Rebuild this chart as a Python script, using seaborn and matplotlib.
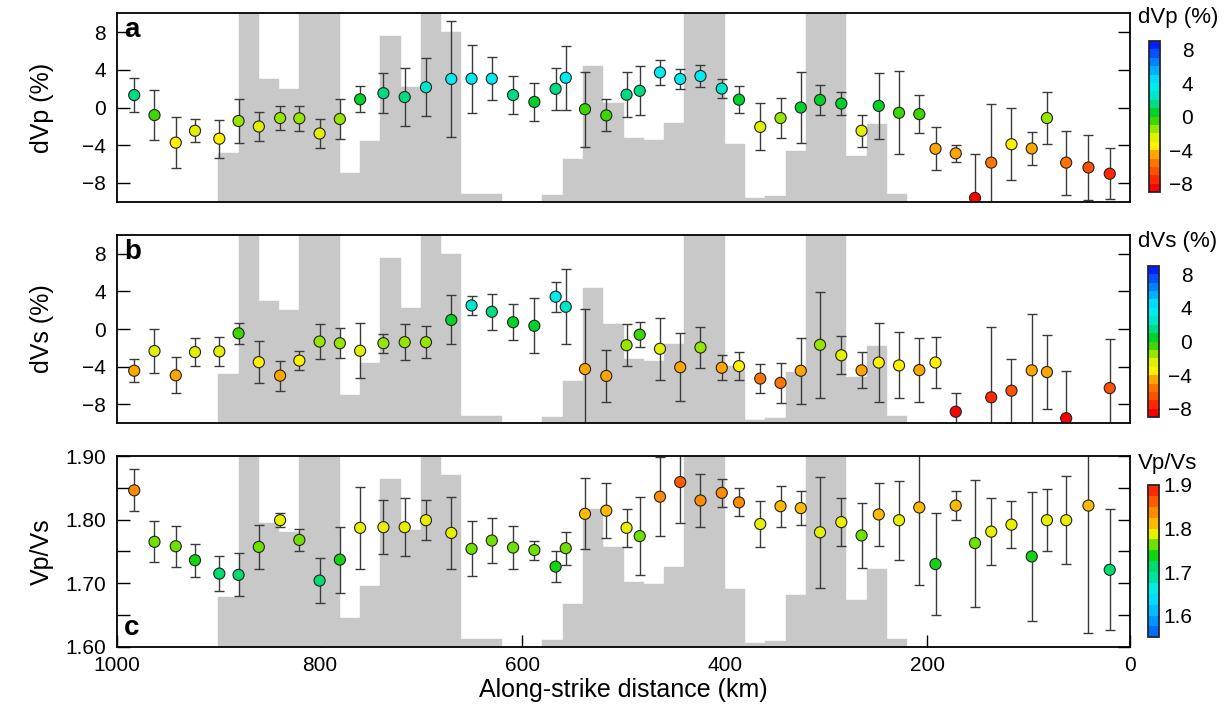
import numpy as np
import pandas as pd
import seaborn as sns
import matplotlib.pyplot as plt
from matplotlib.colors import ListedColormap, Normalize
from matplotlib.cm import ScalarMappable
import matplotlib.ticker as mticker

# grid node positions along strike (km)
distance = [983, 963, 942, 923, 899, 880, 860, 839, 820, 800, 780, 760, 737, 716, 695,
            670, 650, 630, 609, 588, 567, 557, 538, 517, 497, 484, 464, 444, 424, 403,
            386, 365, 345, 325, 306, 285, 265, 248, 228, 208, 192, 172, 153, 137, 117,
            97, 82, 63, 41, 20]

dvp = [1.32, -0.80, -3.73, -2.47, -3.31, -1.43, -2.02, -1.12, -1.15, -2.76, -1.22, 0.87,
       1.52, 1.11, 2.15, 3.03, 3.06, 3.06, 1.32, 0.59, 1.98, 3.16, -0.18, -0.84, 1.36,
       1.77, 3.72, 3.03, 3.34, 2.01, 0.83, -2.06, -1.12, 0.00, 0.80, 0.42, -2.47, 0.17,
       -0.56, -0.70, -4.38, -4.87, -9.6, -5.85, -3.90, -4.35, -1.12, -5.85, -6.37, -7.03]
dvp_err = [1.8, 2.7, 2.7, 1.2, 2.0, 2.3, 1.5, 1.3, 1.3, 1.5, 2.1, 1.4, 2.1, 3.1, 3.1,
           6.2, 3.6, 2.3, 2.0, 2.0, 2.2, 3.4, 4.0, 1.7, 2.4, 2.6, 1.3, 1.1, 1.2, 1.0,
           1.4, 2.5, 2.1, 3.8, 1.6, 1.2, 1.7, 3.5, 4.4, 2.0, 2.3, 0.9, 4.7, 6.2, 3.8,
           1.8, 2.8, 3.4, 3.4, 2.7]

dvs = [-4.42, -2.33, -4.91, -2.44, -2.37, -0.45, -3.51, -4.94, -3.34, -1.32, -1.50, -2.30,
       -1.50, -1.39, -1.39, 0.97, 2.51, 1.84, 0.73, 0.35, 3.44, 2.37, -4.24, -4.97, -1.71,
       -0.59, -2.09, -4.05, -1.95, -4.10, -3.93, -5.25, -5.71, -4.42, -1.67, -2.78, -4.38,
       -3.55, -3.86, -4.35, -3.55, -8.77, np.nan, -7.24, -6.54, -4.38, -4.56, -9.46,
       np.nan, -6.26]
dvs_err = [1.2, 2.3, 1.9, 1.5, 1.5, 1.1, 2.2, 1.6, 1.0, 1.9, 1.6, 2.9, 1.0, 1.9, 1.7,
           2.6, 1.0, 1.9, 1.9, 2.9, 1.6, 4.0, 6.4, 2.8, 2.2, 1.3, 3.3, 3.6, 2.2, 1.3,
           1.5, 1.5, 2.1, 3.5, 5.6, 2.0, 1.9, 4.2, 3.5, 3.4, 2.7, 2.0, np.nan, 7.5, 3.4,
           6.0, 3.9, 5.0, np.nan, 5.2]

vpvs = [1.846, 1.765, 1.758, 1.736, 1.715, 1.713, 1.757, 1.799, 1.768, 1.704, 1.737,
        1.787, 1.788, 1.788, 1.799, 1.779, 1.754, 1.767, 1.756, 1.752, 1.726, 1.755,
        1.809, 1.814, 1.787, 1.774, 1.836, 1.859, 1.830, 1.842, 1.827, 1.793, 1.821,
        1.818, 1.780, 1.796, 1.775, 1.808, 1.799, 1.819, 1.730, 1.822, 1.763, 1.781,
        1.792, 1.742, 1.799, 1.799, 1.822, 1.721]
vpvs_err = [0.033, 0.032, 0.032, 0.026, 0.028, 0.034, 0.035, 0.011, 0.017, 0.035, 0.052,
            0.064, 0.042, 0.046, 0.031, 0.056, 0.043, 0.035, 0.034, 0.015, 0.024, 0.026,
            0.056, 0.043, 0.030, 0.061, 0.062, 0.064, 0.042, 0.022, 0.022, 0.036, 0.032,
            0.027, 0.087, 0.038, 0.051, 0.049, 0.062, 0.122, 0.080, 0.023, 0.100, 0.053,
            0.037, 0.101, 0.049, 0.069, 0.201, 0.095]

# background seismicity histogram (20 km bins, % of panel height, capped at 100)
seis_bins_km = list(range(890, 220, -20))
seismicity = [26, 100, 65, 60, 100, 100, 15, 32, 88, 61, 100, 90, 4, 4, 0, 0, 3.5,
              22.5, 72, 52.5, 34, 33, 42, 100, 100, 30.5, 2, 3, 27, 100, 100, 24.5, 41, 4]

df = pd.DataFrame({"dist": distance, "dvp": dvp, "dvp_err": dvp_err,
                   "dvs": dvs, "dvs_err": dvs_err, "vpvs": vpvs, "vpvs_err": vpvs_err})

dv_cmap = ListedColormap(['#ff0000', '#ff2800', '#ff5000', '#ff7300', '#ffa500', '#fff000',
                          '#e1f000', '#96e600', '#3cd700', '#00d228', '#00dc82', '#00e6c8',
                          '#00ebf0', '#00dcff', '#00afff', '#0082ff', '#0050ff', '#001eff'])
dv_norm = Normalize(-9, 9)
ratio_cmap = ListedColormap(['#006eff', '#0096ff', '#00beff', '#00dcff', '#00ebe6', '#00e1a0',
                             '#00dc6e', '#14d214', '#6ee100', '#e6f000', '#ffb900', '#ff8c00',
                             '#ff5a00', '#ff2800'])
ratio_norm = Normalize(1.55, 1.90)

sns.set_theme(style="ticks")
plt.rcParams['font.family'] = ['Liberation Sans', 'DejaVu Sans']
plt.rcParams.update({'text.color': 'black', 'axes.labelcolor': 'black',
                     'xtick.color': 'black', 'ytick.color': 'black'})

fig = plt.figure(figsize=(12.29, 7.14), dpi=100)
W, H = 1229, 714
left, width = 117 / W, 1013 / W
axes_specs = [
    ("dvp", "dvp_err", "dVp (%)", "a", (1 - 201.7 / H, 188.4 / H), dv_cmap, dv_norm, (-10, 10)),
    ("dvs", "dvs_err", "dVs (%)", "b", (1 - 423.3 / H, 188.4 / H), dv_cmap, dv_norm, (-10, 10)),
    ("vpvs", "vpvs_err", "Vp/Vs", "c", (1 - 646.7 / H, 190.7 / H), ratio_cmap, ratio_norm, (1.6, 1.9)),
]
cbar_specs = [
    (1149 / W, 1 - 192.3 / H, 11 / W, 151.3 / H, "dVp (%)", 1178, 18, [-8, -4, 0, 4, 8]),
    (1148 / W, 1 - 417.3 / H, 11 / W, 151.6 / H, "dVs (%)", 1178, 242, [-8, -4, 0, 4, 8]),
    (1148 / W, 1 - 637.3 / H, 11 / W, 152.3 / H, "Vp/Vs", 1168, 464, [1.6, 1.7, 1.8, 1.9]),
]

for i, (col, ecol, ylab, tag, (bot, hgt), cmap, norm, ylim) in enumerate(axes_specs):
    ax = fig.add_axes([left, bot, width, hgt])
    ax.bar(seis_bins_km, np.array(seismicity) / 100.0, width=20, color='#c8c8c8',
           edgecolor='#c8c8c8', linewidth=0.3, transform=ax.get_xaxis_transform(), zorder=1)
    ax.errorbar(df["dist"], df[col], yerr=df[ecol], fmt='none', ecolor='#3a3a3a',
                elinewidth=1.0, capsize=3.6, capthick=1.0, zorder=2)
    sns.scatterplot(data=df, x="dist", y=col, hue=col, palette=cmap, hue_norm=norm,
                    s=64, edgecolor='#222222', linewidth=0.8, legend=False, ax=ax, zorder=3)
    ax.set_xlim(1000, 0)
    ax.set_ylim(*ylim)
    for s in ax.spines.values():
        s.set_linewidth(1.3)
        s.set_color('black')
        s.set_zorder(5)
    ax.set_ylabel(ylab, fontsize=18, labelpad=6)
    ax.tick_params(axis='y', direction='in', length=9, width=1.0, left=True, right=True,
                   labelsize=15, pad=8, colors='black')
    if col == "vpvs":
        ax.yaxis.set_major_locator(mticker.MultipleLocator(0.1))
        ax.yaxis.set_minor_locator(mticker.MultipleLocator(0.05))
        ax.yaxis.set_major_formatter(mticker.FormatStrFormatter('%.2f'))
        ax.tick_params(axis='y', which='minor', direction='in', length=9, width=1.0,
                       left=True, right=True)
        ax.xaxis.set_major_locator(mticker.MultipleLocator(200))
        ax.tick_params(axis='x', direction='in', length=9, width=1.0, bottom=True,
                       labelsize=15, pad=7, colors='black')
        ax.set_xlabel("Along-strike distance (km)", fontsize=18, labelpad=2)
        ax.text(0.007, 0.1, tag, transform=ax.transAxes, fontsize=20, fontweight='bold',
                va='center', ha='left', zorder=6)
    else:
        ax.set_yticks([-8, -4, 0, 4, 8])
        ax.set_xticks([])
        ax.set_xlabel("")
        ax.text(0.007, 0.91, tag, transform=ax.transAxes, fontsize=20, fontweight='bold',
                va='center', ha='left', zorder=6)
    ax.yaxis.set_label_coords(-0.062, 0.5)

    cx, cy, cw, ch, ctitle, tx, ty, cticks = cbar_specs[i]
    cax = fig.add_axes([cx, cy, cw, ch])
    cb = fig.colorbar(ScalarMappable(norm=norm, cmap=cmap), cax=cax, ticks=cticks)
    cb.outline.set_linewidth(1.3)
    cax.tick_params(direction='in', length=8, width=1.0, color='black', labelsize=15, pad=24)
    if col == "vpvs":
        cax.yaxis.set_major_formatter(mticker.FormatStrFormatter('%.1f'))
    for lbl in cax.get_yticklabels():
        lbl.set_horizontalalignment('right')
    fig.text(tx / W, 1 - ty / H, ctitle, fontsize=16, ha='center', va='center')

fig.savefig("out.png", dpi=100)
